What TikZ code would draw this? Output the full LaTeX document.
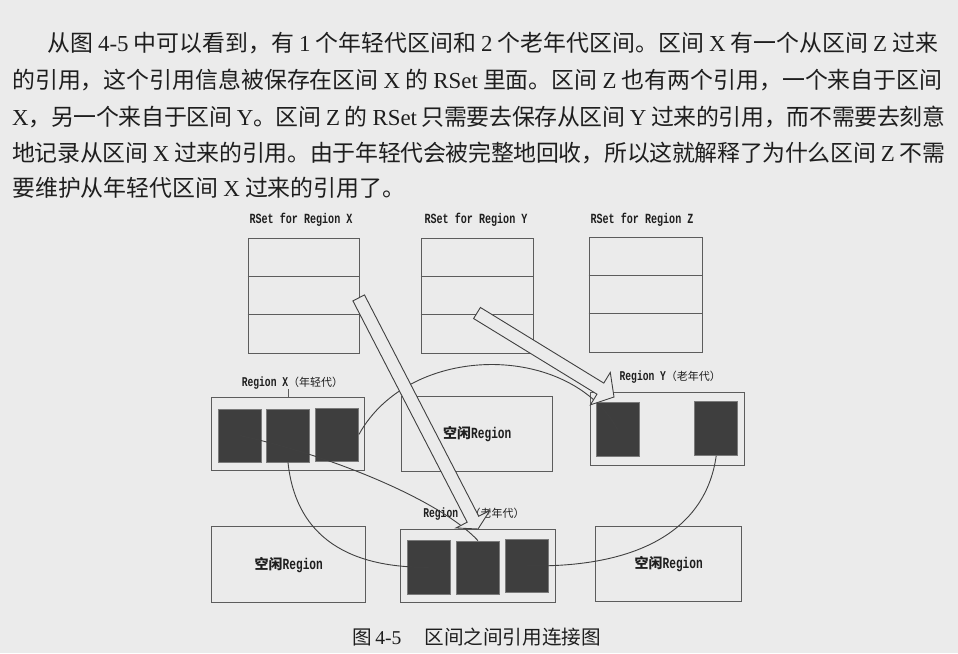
\documentclass[tikz,border=0pt]{standalone}
\usepackage{fontspec}
\usetikzlibrary{calc}
\setmainfont{Noto Sans CJK SC}
\newfontfamily\lat{Liberation Serif}
\newfontfamily\mono{Liberation Mono}[FakeStretch=0.72]
% break opportunities and justification glue between CJK characters
\XeTeXlinebreaklocale "zh"
\XeTeXlinebreakskip=0pt plus 3pt minus 1.5pt

\definecolor{paper}{HTML}{EBEBEB}
\definecolor{ink}{HTML}{1E1E1E}
\definecolor{boxc}{HTML}{5C5C5C}
\definecolor{cellfill}{HTML}{3E3E3E}
\definecolor{celledge}{HTML}{7A7A7A}
\definecolor{linkc}{HTML}{404040}

% region label: "Region <name>（<generation>）"
\newcommand\regionlabel[2]{{\mono\bfseries\fontsize{13.4}{15}\selectfont Region #1}{\fontsize{11}{12}\selectfont （#2）}}
% free region caption
\newcommand\freetext{{\bfseries\fontsize{14}{16}\selectfont 空闲}{\mono\bfseries\fontsize{15.5}{17}\selectfont Region}}
% remembered set caption
\newcommand\rsettext[1]{{\mono\bfseries\fontsize{14}{16}\selectfont RSet for Region #1}}
% wide hollow arrow: tail, tip, shaft half-width, head half-width, head length
\newcommand\hollowarrow[5]{%
  \filldraw[barrow]
    ($(#1)!#3!90:(#2)$)
    -- ($(#2)!#5!(#1)!#3!90:(#2)$)
    -- ($(#2)!#5!(#1)!#4!90:(#2)$)
    -- (#2)
    -- ($(#2)!#5!(#1)!#4!-90:(#2)$)
    -- ($(#2)!#5!(#1)!#3!-90:(#2)$)
    -- ($(#1)!#3!-90:(#2)$)
    -- cycle;}

\tikzset{
  paraline/.style={anchor=base west, inner sep=0pt, text width=933pt, align=justify,
    font=\fontsize{22.9}{30}\selectfont, text=ink},
  sz/.style 2 args={minimum width=#1pt, minimum height=#2pt},
  regbox/.style={draw=boxc, line width=1pt, inner sep=0pt, rectangle},
  cell/.style={fill=cellfill, draw=celledge, line width=0.8pt, inner sep=0pt, rectangle},
  divider/.style={draw=boxc, line width=1pt},
  lbl/.style={inner sep=0pt, text=ink},
  link/.style={draw=linkc, line width=0.9pt},
  barrow/.style={fill=paper, draw=linkc, line width=0.9pt, line join=miter},
}

\begin{document}
\begin{tikzpicture}[x=1pt, y=-1pt]
\useasboundingbox (0,0) rectangle (958,653);
\fill[paper] (0,0) rectangle (958,653);

% ---- body text ----
\node[paraline] (p1) at (12,51.7) {\parfillskip=0pt\relax\hspace*{35pt}从图 {\lat 4-5} 中可以看到，有 {\lat 1} 个年轻代区间和 {\lat 2} 个老年代区间。区间 {\lat X} 有一个从区间 {\lat Z} 过来};
\node[paraline] (p2) at (12,88.7) {\parfillskip=0pt\relax 的引用，这个引用信息被保存在区间 {\lat X} 的 {\lat RSet} 里面。区间 {\lat Z} 也有两个引用，一个来自于区间};
\node[paraline] (p3) at (12,125.4) {\parfillskip=0pt\relax {\lat X}，另一个来自于区间 {\lat Y}。区间 {\lat Z} 的 {\lat RSet} 只需要去保存从区间 {\lat Y} 过来的引用，而不需要去刻意};
\node[paraline] (p4) at (12,161.7) {\parfillskip=0pt\relax 地记录从区间 {\lat X} 过来的引用。由于年轻代会被完整地回收，所以这就解释了为什么区间 {\lat Z} 不需};
\node[paraline] (p5) at (12,196.7) {要维护从年轻代区间 {\lat X} 过来的引用了。};

% ---- remembered sets ----
\node[lbl] (tx) at (301,220) {\rsettext{X}};
\node[lbl] (ty) at (476,220) {\rsettext{Y}};
\node[lbl] (tz) at (642,220) {\rsettext{Z}};
\node[regbox, sz={111}{115}] (rsx) at (303.5,295.5) {};
\node[regbox, sz={112}{115}] (rsy) at (477,295.5) {};
\node[regbox, sz={113}{115}] (rsz) at (645.5,294.5) {};
\foreach \r in {rsx,rsy,rsz}{
  \draw[divider] ($(\r.north west)!0.34!(\r.south west)$) -- ($(\r.north east)!0.34!(\r.south east)$);
  \draw[divider] ($(\r.north west)!0.66!(\r.south west)$) -- ($(\r.north east)!0.66!(\r.south east)$);
}

% ---- heap regions ----
\node[lbl] (lx) at (292.5,382.7) {\regionlabel{X}{年轻代}};
\node[regbox, sz={153.3}{73.3}] (rx) at (288.3,434.3) {};
\node[cell, sz={43}{53}] (x1) at (239.5,435.5) {};
\node[cell, sz={43}{53}] (x2) at (288,435.5) {};
\node[cell, sz={43}{53}] (x3) at (337,434.5) {};
\draw[divider] ([xshift=-4.5pt]lx.south) -- ([xshift=-4.5pt]lx.south |- rx.north);

\node[regbox, sz={151.3}{74.8}] (fm) at (477.3,434) {};
\node[lbl] at (fm.center) {\freetext};

\node[lbl] (ly) at (670.3,377.3) {\regionlabel{Y}{老年代}};
\node[regbox, sz={154.3}{72.7}] (ry) at (667.2,428.7) {};
\node[cell, sz={43.3}{54}] (y1) at (617.7,429.7) {};
\node[cell, sz={43.3}{54}] (y2) at (716.2,428.5) {};

\node[regbox, sz={154.3}{76}] (fl) at (288.8,564.7) {};
\node[lbl] at (fl.center) {\freetext};

\node[lbl] (lz) at (474,514) {\regionlabel{Z}{老年代}};
\node[regbox, sz={154.7}{73.3}] (rz) at (478.3,565.7) {};
\node[cell, sz={42.7}{53.5}] (z1) at (428.7,567.3) {};
\node[cell, sz={42.7}{53.5}] (z2) at (478,567.8) {};
\node[cell, sz={42.7}{53.5}] (z3) at (527,565.8) {};

\node[regbox, sz={146}{75}] (fr) at (668.7,564.2) {};
\node[lbl] at (fr.center) {\freetext};

% ---- references between regions ----
\draw[link] (x3.east) .. controls (410,342) and (570,342) .. (y1.center);
\draw[link] (x1.center) .. controls (330,455) and (440,500) .. (z2.north);
\draw[link] (x2.south) .. controls (295,530) and (340,568) .. (z1.center);
\draw[link] (y2.south) .. controls (705,535) and (630,568) .. (z3.center);

% ---- remembered set entries ----
\coordinate (a1t) at (358.7,297.9);
\coordinate (a1h) at (478,529);
\coordinate (a2t) at (477,313);
\coordinate (a2h) at (614,397);
\hollowarrow{a1t}{a1h}{6.5pt}{19pt}{11pt}
\hollowarrow{a2t}{a2h}{6.5pt}{19pt}{16pt}

% ---- caption ----
\node[anchor=base west, inner sep=0pt, text=ink] (cap) at (352,644)
  {\fontsize{19.6}{22}\selectfont 图\hspace{3.5pt}{\lat 4-5}\hspace{23pt}区间之间引用连接图};
\end{tikzpicture}
\end{document}
